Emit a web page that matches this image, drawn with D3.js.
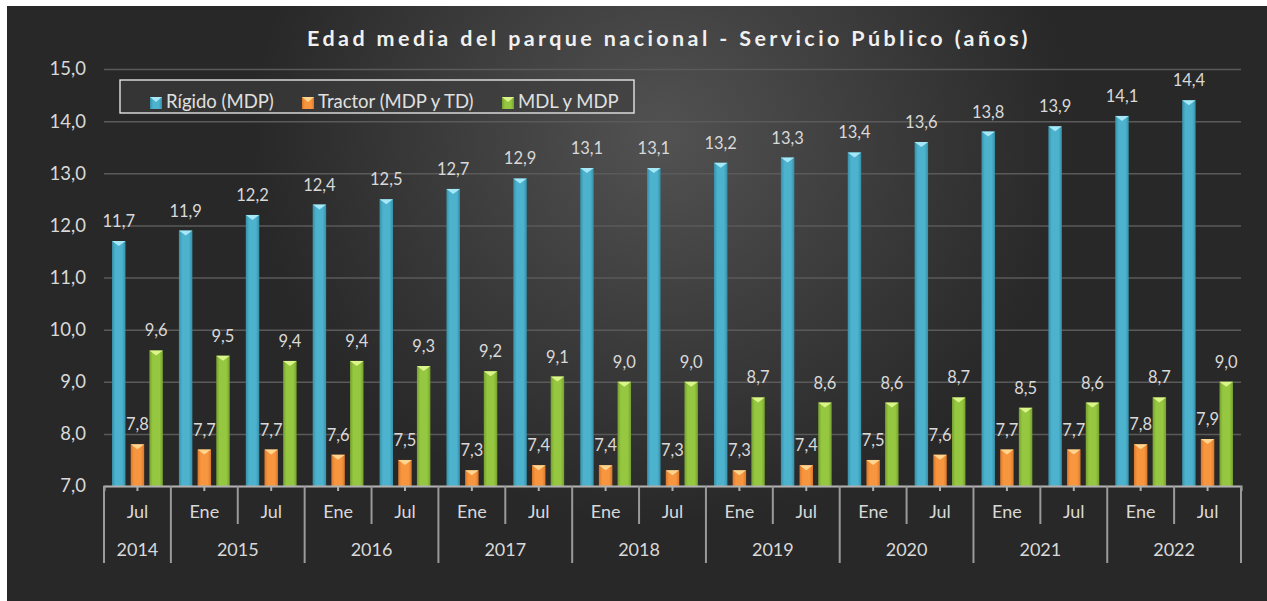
<!DOCTYPE html>
<html>
<head>
<meta charset="utf-8">
<script src="https://cdn.jsdelivr.net/npm/d3@7"></script>
<style>
  body { margin: 0; background: #fff; }
  text { font-family: Lato, "Open Sans", sans-serif; }
</style>
</head>
<body>
<div id="chart"></div>
<script>
// Data
const months = ["Jul", "Ene", "Jul", "Ene", "Jul", "Ene", "Jul", "Ene", "Jul",
                "Ene", "Jul", "Ene", "Jul", "Ene", "Jul", "Ene", "Jul"];
const years = ["2014", "2015", "2016", "2017", "2018", "2019", "2020", "2021", "2022"];
const yearSpan = [1, 2, 2, 2, 2, 2, 2, 2, 2];
const rigido = [11.7, 11.9, 12.2, 12.4, 12.5, 12.7, 12.9, 13.1, 13.1, 13.2, 13.3, 13.4, 13.6, 13.8, 13.9, 14.1, 14.4];
const tractor = [7.8, 7.7, 7.7, 7.6, 7.5, 7.3, 7.4, 7.4, 7.3, 7.3, 7.4, 7.5, 7.6, 7.7, 7.7, 7.8, 7.9];
const mdl = [9.6, 9.5, 9.4, 9.4, 9.3, 9.2, 9.1, 9.0, 9.0, 8.7, 8.6, 8.6, 8.7, 8.5, 8.6, 8.7, 9.0];
const seriesNames = ["Rígido (MDP)", "Tractor (MDP y TD)", "MDL y MDP"];
const yTicks = [7, 8, 9, 10, 11, 12, 13, 14, 15];

const seriesData = [rigido, tractor, mdl];
const colors = [
    { dark: "#3790a8", mid: "#4cb2cd", tip: "#a6e8f7" },
    { dark: "#d9782a", mid: "#f8963f", tip: "#ffd58f" },
    { dark: "#76a030", mid: "#95c840", tip: "#dcf58a" }
];

const width = 1267, height = 601;
const plot = { left: 104, right: 1241, top: 69, bottom: 486 };

const svg = d3.select("#chart")
    .append("svg")
    .attr("width", width)
    .attr("height", height);

const defs = svg.append("defs");

// Background gradient
const bg = defs.append("radialGradient")
    .attr("id", "bg")
    .attr("cx", "52%").attr("cy", "22%").attr("r", "65%")
    .attr("gradientTransform", "translate(0.26,0) scale(0.5,1)");
bg.append("stop").attr("offset", "0%").attr("stop-color", "#525252");
bg.append("stop").attr("offset", "100%").attr("stop-color", "#282828");

colors.forEach((c, i) => {
    const g = defs.append("linearGradient").attr("id", "bar" + i)
        .attr("x1", "0%").attr("x2", "100%").attr("y1", "0%").attr("y2", "0%");
    g.append("stop").attr("offset", "0%").attr("stop-color", c.dark);
    g.append("stop").attr("offset", "25%").attr("stop-color", c.mid);
    g.append("stop").attr("offset", "75%").attr("stop-color", c.mid);
    g.append("stop").attr("offset", "100%").attr("stop-color", c.dark);
});

svg.append("rect")
    .attr("x", 7).attr("y", 6)
    .attr("width", width - 7).attr("height", height - 6)
    .attr("fill", "url(#bg)");

// Scales
const x = d3.scaleBand()
    .domain(d3.range(months.length))
    .range([plot.left, plot.right]);

const xs = d3.scaleBand()
    .domain([0, 1, 2])
    .range([0, x.bandwidth()])
    .paddingInner(0.28)
    .paddingOuter(0.43);

const y = d3.scaleLinear()
    .domain([7, 15])
    .range([plot.bottom, plot.top]);

const fmt = v => d3.format(".1f")(v).replace(".", ",");

// Y axis + gridlines
const yAxis = svg.append("g")
    .attr("transform", `translate(${plot.left},0)`)
    .call(d3.axisLeft(y).tickValues(yTicks).tickFormat(fmt)
        .tickSize(-(plot.right - plot.left)).tickPadding(18));
yAxis.select(".domain").remove();
yAxis.selectAll(".tick line").attr("stroke", "#5a5a5a").attr("stroke-width", 1.5);
yAxis.selectAll(".tick text")
    .attr("fill", "#d9d9d9").attr("font-size", 18.5);

// Bars
seriesData.forEach((vals, s) => {
    const g = svg.append("g");
    vals.forEach((v, i) => {
        const x0 = x(i) + xs(s), w = xs.bandwidth(), yt = y(v);
        g.append("rect")
            .attr("x", x0).attr("y", yt)
            .attr("width", w).attr("height", plot.bottom - yt)
            .attr("fill", `url(#bar${s})`);
        g.append("path")
            .attr("d", `M${x0},${yt}L${x0 + w},${yt}L${x0 + w / 2},${yt + 5}Z`)
            .attr("fill", colors[s].tip);
        g.append("text")
            .attr("x", x0 + w / 2).attr("y", yt - 14)
            .attr("text-anchor", "middle")
            .attr("fill", "#d9d9d9").attr("font-size", 16.5)
            .text(fmt(v));
    });
});

// X axis
const xAxis = svg.append("g")
    .attr("transform", `translate(0,${plot.bottom})`)
    .call(d3.axisBottom(x).tickSize(5).tickFormat(i => months[i]).tickPadding(14));
xAxis.select(".domain").attr("stroke", "#b0b0b0").attr("stroke-width", 2);
xAxis.selectAll(".tick line").attr("stroke", "#b0b0b0").attr("stroke-width", 2);
xAxis.selectAll(".tick text").attr("fill", "#d9d9d9").attr("font-size", 18);

// Category separators
const yearBounds = [0];
yearSpan.forEach(n => yearBounds.push(yearBounds[yearBounds.length - 1] + n));
d3.range(months.length + 1).forEach(i => {
    const xx = i < months.length ? x(i) : plot.right;
    const isYear = yearBounds.includes(i);
    svg.append("line")
        .attr("x1", xx).attr("x2", xx)
        .attr("y1", plot.bottom).attr("y2", isYear ? 563 : 524)
        .attr("stroke", "#9a9a9a").attr("stroke-width", 2);
});

// Year labels
years.forEach((yr, k) => {
    const a = yearBounds[k], b = yearBounds[k + 1];
    const xa = x(a), xb = b < months.length ? x(b) : plot.right;
    svg.append("text")
        .attr("x", (xa + xb) / 2).attr("y", 556)
        .attr("text-anchor", "middle")
        .attr("fill", "#d9d9d9").attr("font-size", 18)
        .text(yr);
});

// Title
svg.append("text")
    .attr("x", 669).attr("y", 46)
    .attr("text-anchor", "middle")
    .attr("fill", "#f0f0f0")
    .attr("font-size", 21.5).attr("font-weight", "bold")
    .attr("letter-spacing", 3.4)
    .text("Edad media del parque nacional - Servicio Público (años)");

// Legend
const legend = svg.append("g");
legend.append("rect")
    .attr("x", 120).attr("y", 80).attr("width", 514).attr("height", 33)
    .attr("fill", "#3d3d3d").attr("fill-opacity", 0.6)
    .attr("stroke", "#f0f0f0").attr("stroke-width", 1.3);
const legX = [150, 302, 502];
seriesNames.forEach((name, s) => {
    legend.append("rect")
        .attr("x", legX[s]).attr("y", 97).attr("width", 12).attr("height", 12)
        .attr("fill", `url(#bar${s})`);
    legend.append("path")
        .attr("d", `M${legX[s]},97L${legX[s] + 12},97L${legX[s] + 6},102Z`)
        .attr("fill", colors[s].tip);
    legend.append("text")
        .attr("x", legX[s] + 16).attr("y", 108)
        .attr("fill", "#e0e0e0").attr("font-size", 18.5)
        .text(name);
});
</script>
</body>
</html>
